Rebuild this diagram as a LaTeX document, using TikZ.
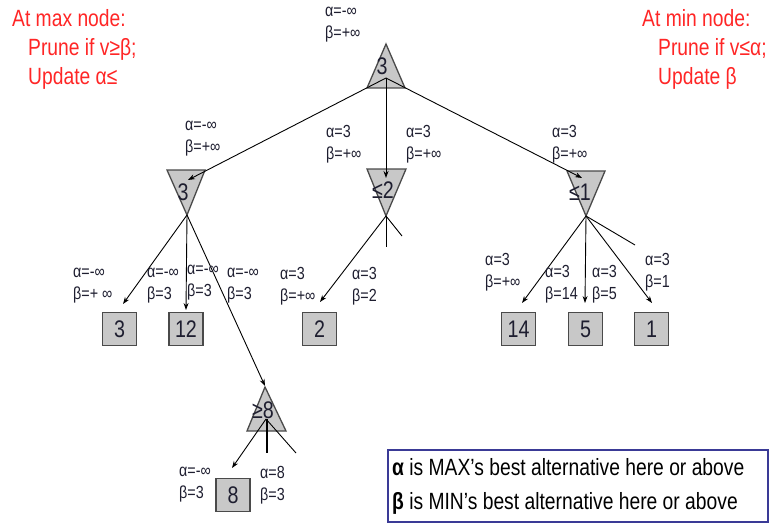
\documentclass[tikz,border=0pt]{standalone}
\usepackage{fontspec}
\setmainfont{Liberation Sans}[FakeStretch=0.82]
\usetikzlibrary{arrows.meta}
\definecolor{nodefill}{HTML}{C8C8C8}
\definecolor{nodeedge}{HTML}{4A4A4A}
\definecolor{redtxt}{HTML}{FF2626}
\definecolor{legendedge}{HTML}{3A3A96}
\definecolor{inktxt}{HTML}{1E1E30}
\newcommand\valfont{\fontsize{24}{28}\selectfont}
\newcommand\labfont{\fontsize{17.5}{22}\selectfont}
\newcommand\notefont{\fontsize{23.5}{28}\selectfont}
\newcommand\legfont{\fontsize{23.5}{28}\selectfont}
\tikzset{
  tri/.style={fill=nodefill, draw=nodeedge, line width=1.3pt, line join=miter},
  leafbox/.style={draw=nodeedge, fill=nodefill, line width=1.3pt, minimum width=34pt, minimum height=33pt, inner sep=0pt, font=\valfont, text=inktxt},
  val/.style={font=\valfont, text=inktxt, inner sep=0pt},
  ab/.style={font=\labfont, text=inktxt, align=left, anchor=west, inner sep=0pt},
  edge/.style={draw=black, line width=0.9pt, -{Stealth[length=7pt,width=5pt]}},
  pruned/.style={draw=black, line width=0.9pt},
  note/.style={font=\notefont, text=redtxt, anchor=base west, inner sep=0pt},
  legtext/.style={font=\legfont, text=black, anchor=base west, inner sep=0pt},
}
\begin{document}
\begin{tikzpicture}[x=1pt,y=-1pt]
\useasboundingbox[fill=white] (0,0) rectangle (771,524);

% red notes
\node[note] (maxa) at (12,27) {At max node:};
\node[note] (maxb) at (28,56) {Prune if v≥β;};
\node[note] (maxc) at (28,85) {Update α≤};
\node[note] (mina) at (642,27) {At min node:};
\node[note] (minb) at (658,56) {Prune if v≤α;};
\node[note] (minc) at (658,85) {Update β};

% triangles
\filldraw[tri] (386,44) -- (405,88) -- (367,88) -- cycle;
\filldraw[tri] (167,170) -- (205,170) -- (187,215) -- cycle;
\filldraw[tri] (367,169) -- (406,169) -- (386,216) -- cycle;
\filldraw[tri] (567,171) -- (605,171) -- (586,216) -- cycle;
\filldraw[tri] (265,387) -- (286,431) -- (247,431) -- cycle;

% values in triangles
\node[val] (root) at (382,66) {3};
\node[val] (mina1) at (183,192) {3};
\node[val] (mina2) at (383,190) {≤2};
\node[val] (mina3) at (580,192) {≤1};
\node[val] (maxb8) at (263,410) {≥8};

% leaves
\node[leafbox] (l3) at (119.5,329) {3};
\node[leafbox] (l12) at (186,329) {12};
\node[leafbox] (l2) at (319.5,329) {2};
\node[leafbox] (l14) at (518.5,329) {14};
\node[leafbox] (l5) at (585.5,329) {5};
\node[leafbox] (l1) at (651.5,329) {1};
\node[leafbox] (l8) at (233,495) {8};

% connector end points
\coordinate (ro) at (386,78);
\coordinate (m1t) at (188,180);
\coordinate (m2t) at (386,178);
\coordinate (m3t) at (582,178);
\coordinate (m1v) at (187,215);
\coordinate (m2v) at (386,216);
\coordinate (m3v) at (586,216);
\coordinate (x8o) at (266,419);
\coordinate (t3) at (123,304);
\coordinate (t12) at (186,310);
\coordinate (t8) at (265,386);
\coordinate (t2) at (320,302);
\coordinate (p2a) at (386,247);
\coordinate (p2b) at (402,236);
\coordinate (t14) at (522,303);
\coordinate (t5) at (585,303);
\coordinate (t1) at (652,303);
\coordinate (p3) at (635,245);
\coordinate (t8b) at (232,468);
\coordinate (x8v) at (267,419);
\coordinate (p8a) at (267,453);
\coordinate (p8b) at (296,453);

% connectors
\draw[edge] (ro) -- (m1t);
\draw[edge] (ro) -- (m2t);
\draw[edge] (ro) -- (m3t);
\draw[edge] (m1v) -- (t3);
\draw[edge] (m1v) -- (t12);
\draw[edge] (m1v) -- (t8);
\draw[edge] (m2v) -- (t2);
\draw[pruned] (m2v) -- (p2a);
\draw[pruned] (m2v) -- (p2b);
\draw[edge] (m3v) -- (t14);
\draw[edge] (m3v) -- (t5);
\draw[edge] (m3v) -- (t1);
\draw[pruned] (m3v) -- (p3);
\draw[edge] (x8o) -- (t8b);
\draw[pruned, line width=2pt] (x8v) -- (p8a);
\draw[pruned] (x8o) -- (p8b);

% alpha/beta labels
\node[ab] (rlab) at (325,24.5) {α=-∞\\β=+∞};
\node[ab] (m1lab) at (185,139) {α=-∞\\β=+∞};
\node[ab] (m2laba) at (326,144) {α=3\\β=+∞};
\node[ab] (m2labb) at (406,144) {α=3\\β=+∞};
\node[ab] (m3lab) at (552,144) {α=3\\β=+∞};
\node[ab] (l3lab) at (73,286) {α=-∞\\β=+ ∞};
\node[ab] (l12laba) at (147,286) {α=-∞\\β=3};
\node[ab] (l12labb) at (187,282.5) {α=-∞\\β=3};
\node[ab] (x8lab) at (227,286) {α=-∞\\β=3};
\node[ab] (l2laba) at (280,286) {α=3\\β=+∞};
\node[ab] (l2labb) at (352,286) {α=3\\β=2};
\node[ab] (l14lab) at (485,272.5) {α=3\\β=+∞};
\node[ab] (l5laba) at (545,284) {α=3\\β=14};
\node[ab] (l5labb) at (592,284) {α=3\\β=5};
\node[ab] (l1lab) at (645,272.5) {α=3\\β=1};
\node[ab] (l8laba) at (179,485) {α=-∞\\β=3};
\node[ab] (l8labb) at (260,485) {α=8\\β=3};

% legend
\node[draw=legendedge, line width=1.6pt, minimum width=380pt, minimum height=72pt, inner sep=0pt] (legend) at (578,486) {};
\node[legtext] (lega) at (392,475) {{\bfseries α} is MAX’s best alternative here or above};
\node[legtext] (legb) at (392,509) {{\bfseries β} is MIN’s best alternative here or above};
\end{tikzpicture}
\end{document}
